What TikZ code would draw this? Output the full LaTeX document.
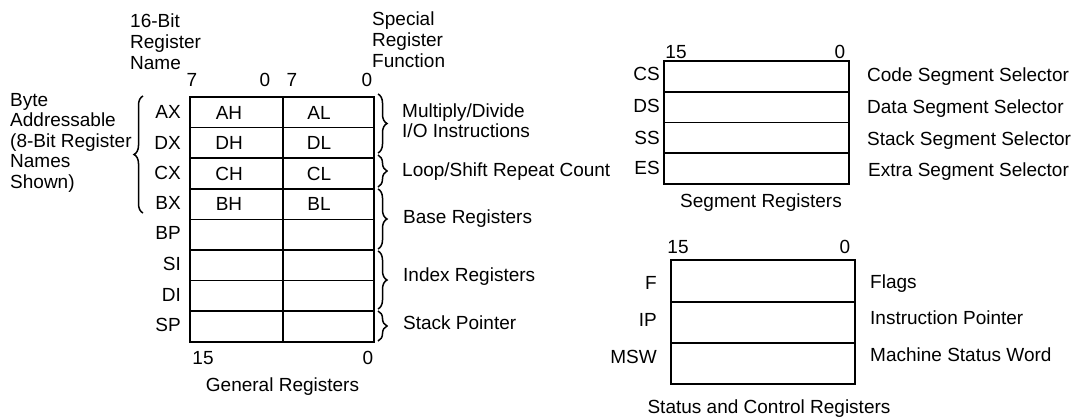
\documentclass[tikz,border=0pt]{standalone}
\usepackage{fontspec}
\setmainfont{Liberation Sans}
\usetikzlibrary{decorations.pathreplacing}
\begin{document}
\begin{tikzpicture}[x=1pt,y=-1pt,
  every node/.style={inner sep=0pt, font=\fontsize{19}{21}\selectfont},
  lbl/.style={text height=13.6pt, text depth=0pt},
  multi/.style={anchor=north west, align=left},
  outer/.style={line width=2.2pt},
  inner/.style={line width=1.6pt},
  brc/.style={line width=1.5pt, decorate, decoration={brace, amplitude=9pt}}]
\useasboundingbox (0,0) rectangle (1075,416);

% ---------- General registers ----------
\foreach \y in {127.6,158.2,188.8,219.4,250,280.6,311.2}
  \draw[inner] (190,\y) -- (374,\y);
\draw[inner] (283,97) -- (283,342);
\draw[outer] (190,97) rectangle (374,342);

\node[multi, font=\fontsize{19}{21}\selectfont] (hdrname) at (130,13.2) {16-Bit\\Register\\Name};
\node[multi, font=\fontsize{19}{21}\selectfont] (hdrfunc) at (372,11.2) {Special\\Register\\Function};
\node[multi, font=\fontsize{19}{20.5}\selectfont] (byteaddr) at (10,93.2) {Byte\\Addressable\\(8-Bit Register\\Names\\Shown)};

\node[lbl] (b7a) at (192,80) {7};
\node[lbl] (b0a) at (265,80) {0};
\node[lbl] (b7b) at (292,80) {7};
\node[lbl] (b0b) at (367,80) {0};
\node[lbl] (b15g) at (203,358) {15};
\node[lbl] (b0g) at (368,358) {0};
\node[lbl] (gentitle) at (282.5,385) {General Registers};

\node[lbl, anchor=east] (ax) at (181,112) {AX};
\node[lbl, anchor=east] (dx) at (181,143) {DX};
\node[lbl, anchor=east] (cx) at (181,173) {CX};
\node[lbl, anchor=east] (bx) at (181,203) {BX};
\node[lbl, anchor=east] (bp) at (181,233) {BP};
\node[lbl, anchor=east] (si) at (181,264) {SI};
\node[lbl, anchor=east] (di) at (181,295) {DI};
\node[lbl, anchor=east] (sp) at (181,325) {SP};

\node[lbl] (ah) at (229,112.3) {AH};
\node[lbl] (al) at (319,112.3) {AL};
\node[lbl] (dh) at (229,142.9) {DH};
\node[lbl] (dl) at (319,142.9) {DL};
\node[lbl] (ch) at (229,173.5) {CH};
\node[lbl] (cl) at (319,173.5) {CL};
\node[lbl] (bh) at (229,204.1) {BH};
\node[lbl] (bl) at (319,204.1) {BL};

\draw[brc] (143,213) -- (143,96);

\draw[brc] (378,94) -- (378,153);
\draw[brc] (378,155) -- (378,187);
\draw[brc] (378,189) -- (378,249);
\draw[brc] (378,251) -- (378,309);
\draw[brc] (378,311) -- (378,341);

\node[multi, font=\fontsize{19}{20}\selectfont] (muldiv) at (402,103.2) {Multiply/Divide\\I/O Instructions};
\node[lbl, anchor=west] (loop) at (402,170) {Loop/Shift Repeat Count};
\node[lbl, anchor=west] (base) at (403,217) {Base Registers};
\node[lbl, anchor=west] (index) at (403,275) {Index Registers};
\node[lbl, anchor=west] (stack) at (403,323) {Stack Pointer};

% ---------- Segment registers ----------
\foreach \y in {91.75,122.5,153.25}
  \draw[inner] (664,\y) -- (849,\y);
\draw[outer] (664,61) rectangle (849,184);
\node[lbl] (s15) at (676,52) {15};
\node[lbl] (s0) at (840,52) {0};
\node[lbl, anchor=east] (cs) at (660,74) {CS};
\node[lbl, anchor=east] (ds) at (660,106) {DS};
\node[lbl, anchor=east] (ss) at (660,138) {SS};
\node[lbl, anchor=east] (es) at (660,168) {ES};
\node[lbl, anchor=west] (csl) at (867,75) {Code Segment Selector};
\node[lbl, anchor=west] (dsl) at (867,107) {Data Segment Selector};
\node[lbl, anchor=west] (ssl) at (867,139) {Stack Segment Selector};
\node[lbl, anchor=west] (esl) at (868,170) {Extra Segment Selector};
\node[lbl] (segtitle) at (761,201) {Segment Registers};

% ---------- Status and control registers ----------
\foreach \y in {301.7,343}
  \draw[inner] (671,\y) -- (855,\y);
\draw[outer] (671,260) rectangle (855,384);
\node[lbl] (c15) at (678,247) {15};
\node[lbl] (c0) at (845,247) {0};
\node[lbl, anchor=east] (f) at (657,283) {F};
\node[lbl, anchor=east] (ip) at (657,320) {IP};
\node[lbl, anchor=east] (msw) at (657,357) {MSW};
\node[lbl, anchor=west] (fl) at (870,282) {Flags};
\node[lbl, anchor=west] (ipl) at (870,318) {Instruction Pointer};
\node[lbl, anchor=west] (mswl) at (870,355) {Machine Status Word};
\node[lbl] (sctitle) at (769,407) {Status and Control Registers};
\end{tikzpicture}
\end{document}
